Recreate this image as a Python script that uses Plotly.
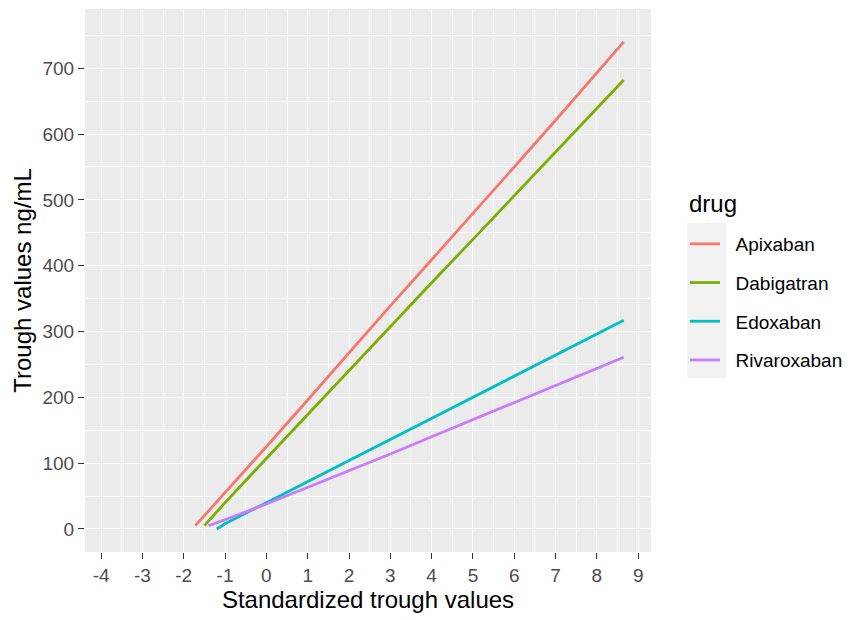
import plotly.graph_objects as go

drugs = ["Apixaban", "Dabigatran", "Edoxaban", "Rivaroxaban"]
colors = ["#F8766D", "#7CAE00", "#00BFC4", "#C77CFF"]

apixaban_x = [-1.72, -1.0, 0.0, 1.0, 2.0, 3.0, 4.0, 5.0, 6.0, 7.0, 8.0, 8.65]
apixaban_y = [5, 55, 125, 196, 268, 339, 409, 479, 550, 621, 693, 740]

dabigatran_x = [-1.5, -1.0, 0.0, 1.0, 2.0, 3.0, 4.0, 5.0, 6.0, 7.0, 8.0, 8.65]
dabigatran_y = [5, 40, 107, 174, 241, 308, 374, 440, 506, 572, 639, 682]

edoxaban_x = [-1.2, -1.0, 0.0, 1.0, 2.0, 3.0, 4.0, 5.0, 6.0, 7.0, 8.0, 8.65]
edoxaban_y = [0, 8, 40, 72, 104, 136, 168, 200, 232, 264, 296, 317]

rivaroxaban_x = [-1.4, -1.0, 0.0, 1.0, 2.0, 3.0, 4.0, 5.0, 6.0, 7.0, 8.0, 8.65]
rivaroxaban_y = [5, 14, 38, 63, 88, 114, 140, 166, 192, 218, 244, 261]

x_ticks = list(range(-4, 10))
y_ticks = [0, 100, 200, 300, 400, 500, 600, 700]

series = [
    (apixaban_x, apixaban_y),
    (dabigatran_x, dabigatran_y),
    (edoxaban_x, edoxaban_y),
    (rivaroxaban_x, rivaroxaban_y),
]

FONT = "Liberation Sans, Arial"

fig = go.Figure()
for name, col, (xs, ys) in zip(drugs, colors, series):
    fig.add_trace(go.Scatter(
        x=xs, y=ys, mode="lines", name="\u00a0\u00a0" + name, legendgroup=name,
        line=dict(color=col, width=2.8),
    ))

# page is offset by the 8px body margin
W, H = 844, 612
ml, mt = 77, 1
mr = W - 643
mb = H - 544
PW, PH = W - ml - mr, H - mt - mb


def px(x):
    return (x - ml) / PW


def py(y):
    return (H - mb - y) / PH


axis_common = dict(
    showgrid=True, gridcolor="white", gridwidth=1.4,
    zeroline=False, showline=False, automargin=False,
    ticks="outside", ticklen=6, tickcolor="#333333", tickwidth=1.2,
    tickfont=dict(family=FONT, size=19, color="#4D4D4D"),
    minor=dict(showgrid=True, gridcolor="white", gridwidth=0.7, ticks=""),
)

fig.update_xaxes(
    range=[-4.39, 9.31], tickvals=x_ticks, ticktext=[str(v) for v in x_ticks],
    minor_dtick=0.5, minor_tick0=0.5,
    title=dict(text="Standardized trough values", standoff=6,
               font=dict(family=FONT, size=24, color="black")),
    **axis_common,
)
fig.update_yaxes(
    range=[-35, 790], tickvals=y_ticks, ticktext=[str(v) for v in y_ticks],
    minor_dtick=50, minor_tick0=50,
    title=dict(text="Trough values ng/mL", standoff=4,
               font=dict(family=FONT, size=24, color="black")),
    **axis_common,
)

# legend key background (grey95 like ggplot)
fig.add_shape(type="rect", xref="paper", yref="paper",
              x0=px(679), x1=px(718), y0=py(370), y1=py(215),
              fillcolor="#F2F2F2", line=dict(width=0), layer="below")

fig.add_annotation(text="drug", xref="paper", yref="paper",
                   x=px(679), y=py(195), xanchor="left", yanchor="middle",
                   showarrow=False, font=dict(family=FONT, size=24, color="black"))

fig.update_layout(
    width=W, height=H,
    margin=dict(l=ml, r=mr, t=mt, b=mb),
    plot_bgcolor="#EBEBEB", paper_bgcolor="white",
    font=dict(family=FONT),
    legend=dict(
        font=dict(family=FONT, size=19, color="black"),
        x=px(677), xanchor="left", y=py(217), yanchor="top",
        tracegroupgap=11, itemwidth=30, bgcolor="rgba(0,0,0,0)",
    ),
)

fig.write_html("out.html")
